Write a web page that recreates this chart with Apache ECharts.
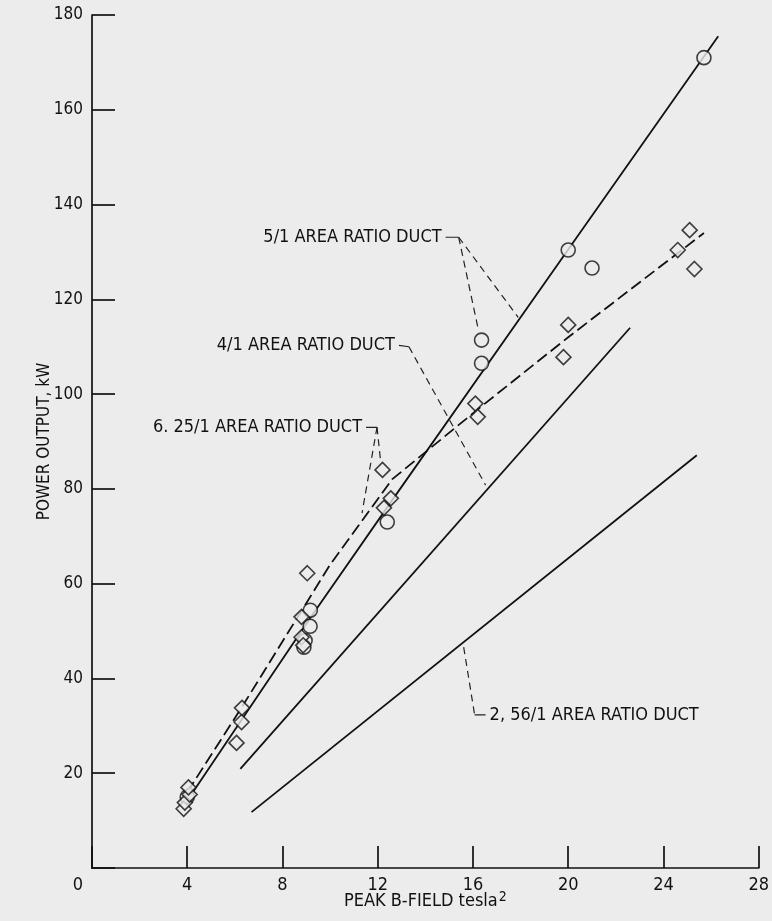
<!DOCTYPE html>
<html>
<head>
<meta charset="utf-8">
<script src="https://cdn.jsdelivr.net/npm/echarts@6/dist/echarts.min.js"></script>
<style>
html,body{margin:0;padding:0;background:#ececec;}
#chart{width:772px;height:921px;}
</style>
</head>
<body>
<div id="chart"></div>
<script>
// ---- tick labels ----
const xTickLabels = ['0','4','8','12','16','20','24','28'];
const yTickLabels = ['20','40','60','80','100','120','140','160','180'];

// ---- measured points ----
const circleX = [4.0, 9.17, 9.16, 8.95, 8.9, 12.4, 16.36, 16.36, 20.0, 21.0, 25.7];
const circleY = [15.0, 54.4, 51.0, 48.0, 46.6, 73.0, 111.4, 106.5, 130.4, 126.6, 171.0];

const diamondX = [3.85, 3.9, 4.1, 4.05, 6.07, 6.28, 6.3, 8.8, 8.8, 8.87, 9.04, 12.2, 12.55, 12.26, 16.1, 16.2, 19.8, 20.0, 24.6, 25.1, 25.3];
const diamondY = [12.5, 13.8, 15.5, 17.0, 26.4, 30.8, 33.8, 53.0, 48.7, 47.0, 62.2, 84.0, 78.0, 76.0, 98.0, 95.2, 107.8, 114.6, 130.4, 134.6, 126.4];

// ---- curves ----
const line5X = [4.1, 9.2, 12.8, 20.0, 26.3];
const line5Y = [15.0, 53.0, 79.0, 130.5, 175.5];

const line625X = [4.0, 6.3, 10.0, 12.6, 16.5, 20.0, 25.7];
const line625Y = [16.0, 34.0, 64.0, 82.0, 98.0, 112.0, 134.0];

const line4X = [6.23, 22.6];
const line4Y = [20.9, 114.0];

const line256X = [6.7, 25.4];
const line256Y = [11.8, 87.1];

// ---- annotation texts ----
const label5 = '5/1 AREA RATIO DUCT';
const label4 = '4/1 AREA RATIO DUCT';
const label625 = '6. 25/1 AREA RATIO DUCT';
const label256 = '2, 56/1 AREA RATIO DUCT';

// annotation leader geometry (data coordinates)
const hook5X = [14.85, 15.4], hook5Y = [133.1, 133.1];
const lead5aX = [15.4, 16.23], lead5aY = [133.1, 113.5];
const lead5bX = [15.4, 17.9], lead5bY = [133.1, 116.2];

const hook4X = [12.89, 13.31], hook4Y = [110.3, 110.0];
const lead4X = [13.31, 16.53], lead4Y = [110.0, 80.8];

const hook625X = [11.51, 11.97], hook625Y = [93.0, 93.0];
const lead625aX = [11.97, 12.13], lead625aY = [93.0, 85.4];
const lead625bX = [11.97, 11.34], lead625bY = [93.0, 74.9];

const lead256X = [15.61, 16.07], lead256Y = [46.6, 32.3];
const hook256X = [16.07, 16.53], hook256Y = [32.3, 32.3];

const zip = (xs, ys) => xs.map((x, i) => [x, ys[i]]);

const INK = '#111111';
const BG = '#ececec';
const FONT = "'Liberation Sans Narrow','DejaVu Sans Condensed','Liberation Sans',sans-serif";

function curve(xs, ys, dashed) {
  return {
    type: 'line', data: zip(xs, ys), symbol: 'none', silent: true, z: 2,
    lineStyle: { color: INK, width: 1.8, type: dashed ? [12, 5] : 'solid' }
  };
}
function leader(xs, ys, dashed) {
  return {
    type: 'line', data: zip(xs, ys), symbol: 'none', silent: true, z: 1,
    lineStyle: { color: '#222', width: 1.2, type: dashed ? [7, 5] : 'solid' }
  };
}
function textAt(x, y, txt, pos) {
  return {
    type: 'scatter', symbolSize: 0, silent: true, z: 5,
    data: [[x, y]],
    label: {
      show: true, position: pos, distance: 4, formatter: txt, opacity: 1,
      fontFamily: FONT, fontSize: 18, color: INK
    }
  };
}

const chart = echarts.init(document.getElementById('chart'), null, { renderer: 'canvas' });

chart.setOption({
  animation: false,
  backgroundColor: BG,
  grid: { left: 92, right: 11, top: 15, bottom: 53, containLabel: false },
  xAxis: {
    type: 'value', min: 0, max: 28, interval: 4,
    name: '{a|PEAK B-FIELD tesla}{s|2}',
    nameLocation: 'middle', nameGap: 22, nameMoveOverlap: false,
    nameTextStyle: {
      rich: {
        a: { fontFamily: FONT, fontSize: 18, color: INK, lineHeight: 22 },
        s: { fontFamily: FONT, fontSize: 14, color: INK, verticalAlign: 'top', lineHeight: 22, padding: [0, 0, 8, 1] }
      }
    },
    axisLine: { lineStyle: { color: INK, width: 1.7 } },
    axisTick: { inside: true, length: 22, lineStyle: { color: INK, width: 1.7 } },
    splitLine: { show: false },
    axisLabel: {
      margin: 8, fontFamily: FONT, fontSize: 18, color: INK,
      formatter: v => {
        const i = xTickLabels.indexOf(String(v));
        if (i < 0) return '';
        return v === 0 ? '{z|' + xTickLabels[i] + '}' : xTickLabels[i];
      },
      rich: { z: { fontFamily: FONT, fontSize: 18, color: INK, padding: [0, 28, 0, 0] } }
    }
  },
  yAxis: {
    type: 'value', min: 0, max: 180, interval: 20,
    name: 'POWER OUTPUT, kW',
    nameLocation: 'middle', nameGap: 39, nameMoveOverlap: false,
    nameTextStyle: { fontFamily: FONT, fontSize: 17, color: INK },
    axisLine: { lineStyle: { color: INK, width: 1.7 } },
    axisTick: { inside: true, length: 23, lineStyle: { color: INK, width: 1.7 } },
    splitLine: { show: false },
    axisLabel: {
      margin: 9, fontFamily: FONT, fontSize: 17, color: INK,
      formatter: v => (yTickLabels.indexOf(String(v)) >= 0 ? String(v) : '')
    }
  },
  series: [
    curve(line5X, line5Y, false),
    curve(line625X, line625Y, true),
    curve(line4X, line4Y, false),
    curve(line256X, line256Y, false),

    leader(hook5X, hook5Y, false),
    leader(lead5aX, lead5aY, true),
    leader(lead5bX, lead5bY, true),
    leader(hook4X, hook4Y, false),
    leader(lead4X, lead4Y, true),
    leader(hook625X, hook625Y, false),
    leader(lead625aX, lead625aY, true),
    leader(lead625bX, lead625bY, true),
    leader(lead256X, lead256Y, true),
    leader(hook256X, hook256Y, false),

    {
      type: 'scatter', data: zip(circleX, circleY), symbol: 'circle', symbolSize: 14, z: 4, silent: true,
      itemStyle: { color: BG, borderColor: INK, borderWidth: 1.6 }
    },
    {
      type: 'scatter', data: zip(diamondX, diamondY), symbol: 'diamond', symbolSize: [15, 15], z: 4, silent: true,
      itemStyle: { color: BG, borderColor: INK, borderWidth: 1.6 }
    },

    textAt(hook5X[0], hook5Y[0], label5, 'left'),
    textAt(hook4X[0], hook4Y[0], label4, 'left'),
    textAt(hook625X[0], hook625Y[0], label625, 'left'),
    textAt(hook256X[1], hook256Y[1], label256, 'right')
  ]
});
</script>
</body>
</html>
